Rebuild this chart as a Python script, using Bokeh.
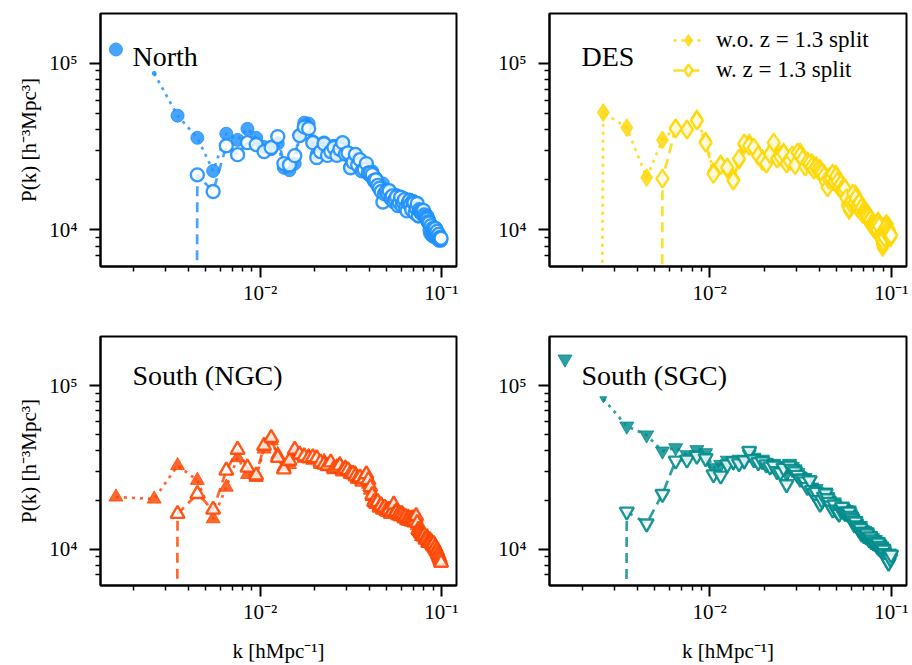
import numpy as np
from bokeh.plotting import figure
from bokeh.models import (FixedTicker, CustomJSTickFormatter, Label, Legend,
                          LegendItem, Range1d)
from bokeh.layouts import column, row
from bokeh.embed import file_html
from bokeh.resources import INLINE

# ---------------- data ----------------
K = [0.0016, 0.0026, 0.0035, 0.0045, 0.0055, 0.0065, 0.0075, 0.0085, 0.0095,
     0.0105, 0.0115, 0.0125, 0.0135, 0.0145, 0.0155, 0.0165, 0.0175, 0.0185, 0.0195,
     0.0205, 0.0215, 0.0225, 0.0235, 0.0245, 0.0255, 0.0265, 0.0275, 0.0285, 0.0295,
     0.0305, 0.0315, 0.0325, 0.0335, 0.0345, 0.0355, 0.0365, 0.0375, 0.0385, 0.0395,
     0.0405, 0.0415, 0.0425, 0.0435, 0.0445, 0.0455, 0.0465, 0.0475, 0.0485, 0.0495,
     0.0505, 0.0515, 0.0525, 0.0535, 0.0545, 0.0555, 0.0565, 0.0575, 0.0585, 0.0595,
     0.0605, 0.0615, 0.0625, 0.0635, 0.0645, 0.0655, 0.0665, 0.0675, 0.0685, 0.0695,
     0.0705, 0.0715, 0.0725, 0.0735, 0.0745, 0.0755, 0.0765, 0.0775, 0.0785, 0.0795,
     0.0805, 0.0815, 0.0825, 0.0835, 0.0845, 0.0855, 0.0865, 0.0875, 0.0885, 0.0895,
     0.0905, 0.0915, 0.0925, 0.0935, 0.0945, 0.0955, 0.0965, 0.0975, 0.0985, 0.0995]

# P(k) in units of 10^3 h^-3 Mpc^3 (negative = not positive, clipped on log axis)
NORTH_WO = [121, 87, 48.5, 35.7, 22.6, 37.8, 34.7, 40.4, 35.7,
            31.5, 30.5, 33.0, 23.6, 22.8, 25.0, 37.0, 44.0, 43.5, 34.0,
            28.5, 31.0, 33.5, 29.0, 30.0, 32.0, 28.5, 31.5, 33.0, 29.5,
            28.0, 24.0, 26.5, 27.5, 25.0, 26.0, 23.0, 22.5, 24.0, 21.5,
            21.0, 22.5, 19.8, 20.5, 19.0, 18.2, 17.5, 19.0, 16.0, 17.5,
            17.0, 17.2, 16.0, 16.5, 15.0, 15.5, 16.2, 14.5, 15.0, 15.7,
            14.2, 15.0, 15.5, 14.0, 13.2, 14.8, 15.2, 14.0, 13.5, 14.5,
            14.0, 13.0, 13.8, 14.4, 12.0, 13.5, 12.5, 13.2, 12.8, 13.1,
            12.0, 12.5, 11.5, 12.2, 11.0, 11.5, 9.5, 10.8, 9.2, 10.5,
            10.0, 9.0, 9.8, 10.2, 9.5, 9.6, 8.6, 9.3, 8.7, 8.6]
NORTH_W = [-30.0, -12.0, -4.0, 21.4, 17.0, 32.0, 28.3, 33.4, 32.5,
           29.5, 31.2, 36.3, 25.0, 24.5, 27.9, 36.8, 41.5, 40.6, 33.4,
           27.2, 29.5, 32.9, 28.0, 29.5, 31.2, 28.0, 30.5, 33.4, 28.5,
           29.0, 23.6, 25.5, 28.4, 24.5, 26.4, 22.6, 23.0, 25.0, 22.0,
           22.0, 21.5, 19.8, 20.0, 18.5, 17.8, 17.0, 14.7, 16.5, 17.0,
           16.5, 17.2, 15.5, 16.0, 14.8, 15.2, 15.8, 14.0, 14.6, 15.7,
           14.0, 14.6, 15.2, 13.6, 13.0, 14.5, 15.0, 14.2, 13.2, 14.8,
           14.5, 12.6, 13.5, 14.4, 12.2, 13.2, 12.8, 13.0, 12.5, 13.1,
           12.3, 12.0, 11.8, 11.6, 11.2, 11.0, 10.0, 10.6, 9.8, 10.2,
           9.9, 9.6, 10.2, 9.5, 9.8, 9.1, 9.4, 8.9, 9.0, 8.9]

DES_WO = [-20.0, 50.6, 41.1, 20.6, 34.7, 41.0, 40.5, 46.6, 34.3,
          22.5, 25.0, 23.0, 20.5, 26.0, 32.0, 33.5, 30.5, 28.5, 27.0,
          25.5, 29.0, 32.0, 27.0, 28.0, 29.5, 25.5, 26.5, 27.5, 25.5,
          28.0, 29.5, 27.0, 25.0, 26.0, 24.5, 25.5, 23.5, 24.5, 22.5,
          23.5, 21.5, 22.0, 20.0, 18.5, 21.0, 19.5, 22.0, 20.5, 21.7,
          20.0, 18.5, 19.5, 17.0, 18.5, 17.7, 16.0, 14.5, 13.0, 15.0,
          15.5, 16.0, 15.0, 16.5, 14.5, 14.0, 15.0, 13.5, 14.0, 13.0,
          13.6, 12.5, 13.0, 12.0, 12.5, 11.5, 11.8, 11.0, 10.5, 10.3,
          10.0, 10.5, 11.0, 10.2, 11.4, 10.0, 9.5, 9.0, 8.5, 7.8,
          8.2, 9.5, 10.5, 11.0, 9.8, 10.8, 9.5, 10.0, 9.2, 9.5]
DES_W = [-40.0, -25.0, -10.0, -3.0, 20.3, 40.6, 40.0, 45.3, 33.4,
         21.7, 24.5, 23.7, 19.8, 26.8, 33.0, 32.0, 31.2, 27.9, 26.0,
         25.0, 28.5, 33.4, 26.8, 27.5, 28.7, 25.0, 26.0, 28.0, 24.5,
         29.1, 28.0, 26.5, 24.0, 25.5, 25.0, 24.0, 23.0, 23.7, 23.0,
         22.5, 22.0, 21.0, 19.5, 18.0, 20.0, 20.5, 21.7, 19.5, 21.0,
         19.5, 18.0, 18.8, 17.5, 17.0, 17.7, 15.5, 14.0, 13.5, 14.5,
         15.0, 16.5, 14.5, 15.5, 14.0, 13.5, 14.5, 13.0, 13.6, 12.5,
         13.0, 12.8, 12.5, 12.2, 11.8, 11.2, 11.5, 10.8, 10.6, 10.5,
         10.2, 10.8, 10.5, 10.0, 11.0, 10.5, 9.2, 9.0, 8.8, 8.2,
         8.5, 9.0, 10.2, 10.5, 9.5, 10.2, 9.8, 9.5, 9.0, 9.3]

NGC_WO = [20.9, 20.3, 32.5, 26.4, 15.4, 24.0, 36.3, 28.7, 27.5,
          41.0, 46.0, 38.0, 32.0, 33.0, 38.5, 37.5, 36.0, 37.0, 35.0,
          35.5, 33.0, 34.5, 32.0, 33.5, 31.5, 32.0, 33.0, 30.5, 31.5,
          30.0, 29.5, 28.5, 29.0, 27.5, 27.0, 26.5, 27.5, 28.5, 25.0,
          23.0, 21.0, 20.0, 19.5, 19.0, 18.5, 18.8, 18.0, 17.5, 17.8,
          17.5, 17.0, 16.8, 17.2, 18.5, 17.0, 16.5, 16.8, 16.0, 16.5,
          16.2, 15.8, 16.0, 15.5, 15.0, 15.8, 15.2, 14.8, 15.5, 15.0,
          14.5, 15.0, 15.5, 14.0, 13.0, 12.8, 12.5, 12.0, 12.5, 12.2,
          12.0, 11.8, 11.5, 12.0, 11.2, 11.0, 11.5, 10.8, 11.0, 10.8,
          10.5, 10.8, 10.0, 10.2, 9.6, 9.3, 9.0, 8.8, 8.5, 8.4]
NGC_W = [-15.0, -6.0, 16.5, 21.8, 17.5, 30.3, 40.6, 31.6, 28.3,
         42.9, 47.9, 36.3, 30.8, 34.8, 40.6, 38.0, 37.0, 36.0, 36.5,
         36.0, 34.0, 33.0, 32.5, 34.0, 31.0, 31.5, 32.5, 30.0, 31.0,
         30.5, 29.0, 29.0, 28.0, 27.0, 27.5, 26.0, 27.0, 28.8, 26.5,
         24.0, 21.5, 19.5, 19.0, 19.5, 18.0, 18.5, 17.5, 18.0, 17.2,
         17.0, 17.5, 16.5, 17.0, 18.8, 16.8, 17.0, 16.2, 16.5, 16.0,
         16.5, 16.0, 15.5, 15.8, 15.2, 15.0, 15.5, 15.0, 14.8, 15.5,
         15.0, 14.8, 16.0, 14.5, 13.2, 13.0, 12.8, 12.5, 12.2, 12.0,
         12.2, 11.5, 11.8, 11.5, 11.0, 11.2, 11.0, 11.2, 10.8, 10.5,
         10.8, 10.2, 10.3, 9.8, 9.8, 9.4, 9.2, 8.9, 8.6, 8.3]

SGC_WO = [145, 83, 56.5, 49.9, 39.8, 41.7, 37.8, 40.6, 38.9,
          31.5, 33.0, 35.0, 34.0, 35.5, 34.5, 38.0, 36.5, 35.0, 35.5,
          34.0, 32.5, 33.5, 31.0, 30.5, 32.5, 29.0, 33.5, 32.0, 31.0,
          29.5, 28.0, 26.5, 27.5, 25.0, 26.0, 24.0, 22.5, 23.5, 21.0,
          20.5, 19.5, 21.5, 22.4, 21.0, 20.0, 19.0, 18.5, 19.5, 18.0,
          17.5, 16.5, 18.2, 18.0, 17.8, 16.5, 17.5, 17.0, 17.4, 16.5,
          16.0, 15.5, 14.5, 15.0, 14.4, 14.0, 13.5, 14.0, 13.0, 13.2,
          12.5, 13.0, 12.2, 12.8, 12.0, 11.8, 12.2, 11.5, 11.8, 11.5,
          11.2, 11.5, 11.0, 10.8, 11.2, 10.5, 10.8, 10.2, 10.5, 10.0,
          10.2, 9.8, 9.5, 9.2, 8.5, 9.0, 8.3, 9.5, 9.0, 9.3]
SGC_W = [-20.0, -8.0, 17.0, 14.4, 21.8, 34.8, 35.3, 37.3, 36.0,
         28.7, 28.2, 33.0, 34.5, 33.5, 35.0, 39.8, 35.5, 34.0, 34.5,
         33.0, 32.0, 32.5, 30.0, 29.5, 31.5, 25.0, 32.5, 31.0, 30.0,
         28.5, 27.0, 27.0, 26.0, 24.0, 26.4, 23.0, 22.0, 22.5, 20.0,
         19.0, 20.0, 21.0, 22.0, 20.5, 19.5, 18.5, 17.5, 18.8, 17.5,
         17.0, 16.5, 17.5, 18.2, 17.0, 16.8, 17.0, 16.5, 17.0, 16.0,
         15.5, 15.0, 14.2, 14.8, 14.0, 13.8, 13.2, 13.5, 12.5, 12.8,
         12.2, 12.8, 12.0, 12.5, 11.8, 11.5, 12.0, 11.2, 11.5, 11.0,
         11.0, 11.2, 10.8, 10.5, 11.0, 10.2, 10.5, 10.0, 10.2, 9.8,
         10.0, 9.5, 9.3, 9.0, 8.8, 8.6, 8.3, 9.2, 8.8, 9.3]

PANEL_NAMES = ["North", "DES", "South (NGC)", "South (SGC)"]
LEGEND_LABELS = ["w.o. z = 1.3 split", "w. z = 1.3 split"]
X_LABEL = "k [hMpc\u207b\u00b9]"
Y_LABEL = "P(k) [h\u207b\u00b3Mpc\u00b3]"
X_MAJOR = [1e-3, 1e-2, 1e-1]
X_MINOR = [2e-3, 3e-3, 4e-3, 5e-3, 6e-3, 7e-3, 8e-3, 9e-3,
           2e-2, 3e-2, 4e-2, 5e-2, 6e-2, 7e-2, 8e-2, 9e-2, 2e-1]
Y_MAJOR = [1e4, 1e5]
Y_MINOR = [6e3, 7e3, 8e3, 9e3, 2e4, 3e4, 4e4, 5e4, 6e4, 7e4, 8e4, 9e4, 2e5]

# ---------------- styling ----------------
FONT = "Liberation Serif"
XR = (1.315e-3, 0.121)
YR = (6.03e3, 1.99e5)

SUP_JS = """
const sup = {"-":"\u207b","0":"\u2070","1":"\u00b9","2":"\u00b2","3":"\u00b3",
             "4":"\u2074","5":"\u2075","6":"\u2076","7":"\u2077","8":"\u2078","9":"\u2079"};
const e = Math.round(Math.log10(tick));
return "10" + String(e).split("").map(c => sup[c]).join("");
"""


def style_axis(ax, major, minor):
    ax.ticker = FixedTicker(ticks=major, minor_ticks=minor)
    ax.formatter = CustomJSTickFormatter(code=SUP_JS)
    ax.axis_line_width = 2
    ax.axis_line_color = "black"
    ax.major_tick_line_width = 2
    ax.major_tick_out = 11
    ax.major_tick_in = 0
    ax.minor_tick_line_width = 1.5
    ax.minor_tick_out = 5
    ax.minor_tick_in = 0
    ax.major_label_text_font = FONT
    ax.major_label_text_font_size = "21px"
    ax.major_label_text_color = "black"
    ax.axis_label_text_font = FONT
    ax.axis_label_text_font_size = "21px"
    ax.axis_label_text_font_style = "normal"
    ax.axis_label_text_color = "black"


def make_panel(name, wo, w, color, marker, msize, width, height, bl, br, bt, bb,
               xlabel=None, ylabel=None, line_from=0, small=None, legend=False):
    p = figure(width=width, height=height, x_axis_type="log", y_axis_type="log",
               x_range=Range1d(*XR), y_range=Range1d(*YR),
               output_backend="svg", toolbar_location=None, title=None,
               min_border_left=bl, min_border_right=br,
               min_border_top=bt, min_border_bottom=bb)
    p.grid.visible = False
    p.outline_line_color = "black"
    p.outline_line_width = 2
    p.background_fill_color = "white"
    p.border_fill_color = "white"

    style_axis(p.xaxis[0], X_MAJOR, X_MINOR)
    style_axis(p.yaxis[0], Y_MAJOR, Y_MINOR)
    p.xaxis[0].major_label_standoff = 3
    p.yaxis[0].major_label_standoff = 12
    if xlabel:
        p.xaxis[0].axis_label = xlabel
        p.xaxis[0].axis_label_standoff = 12
    if ylabel:
        p.yaxis[0].axis_label = ylabel
        p.yaxis[0].axis_label_standoff = 5

    k = np.array(K)
    pwo = np.array(wo) * 1e3
    pw = np.array(w) * 1e3
    # non-positive values are clipped to a tiny number on the log axis
    pwo_c = np.where(pwo > 0, pwo, 1e-30)
    pw_c = np.where(pw > 0, pw, 1e-30)

    sizes = [msize] * len(k)
    if small is not None:
        sizes[1] = small

    alpha = 0.82
    l1 = p.line(k[line_from:], pwo_c[line_from:], line_color=color, line_width=2.7,
                line_dash="3 5", line_alpha=alpha)
    m1 = p.scatter(k, pwo_c, marker=marker, size=sizes, fill_color=color,
                   line_color=color, fill_alpha=alpha, line_alpha=alpha, line_width=1)
    l2 = p.line(k, pw_c, line_color=color, line_width=2.7, line_dash="10 6",
                line_alpha=alpha)
    m2 = p.scatter(k, pw_c, marker=marker, size=msize, fill_color="white",
                   fill_alpha=0.82, line_color=color, line_alpha=0.9, line_width=2.4)

    p.add_layout(Label(x=32, y=210, x_units="screen", y_units="screen", text=name,
                       text_font=FONT, text_font_size="28px", text_color="black",
                       text_baseline="alphabetic"))
    if legend:
        leg = Legend(items=[LegendItem(label=LEGEND_LABELS[0], renderers=[l1, m1]),
                            LegendItem(label=LEGEND_LABELS[1], renderers=[l2, m2])],
                     location=(124, 181), padding=0, margin=0, spacing=0,
                     glyph_width=30, glyph_height=30, label_height=30,
                     label_standoff=13, border_line_color=None,
                     background_fill_alpha=0,
                     label_text_font=FONT, label_text_font_size="23px",
                     label_text_color="black")
        p.add_layout(leg)
    return p


p1 = make_panel(PANEL_NAMES[0], NORTH_WO, NORTH_W, "#1e90ff", "circle", 13,
                470, 323, 100, 14, 13, 57, ylabel=Y_LABEL, line_from=1, small=4)
p2 = make_panel(PANEL_NAMES[1], DES_WO, DES_W, "#ffd700", "diamond", 18,
                442, 323, 79, 6, 13, 57, legend=True)
p3 = make_panel(PANEL_NAMES[2], NGC_WO, NGC_W, "#ff4500", "triangle", 14,
                470, 342, 100, 14, 13, 75, xlabel=X_LABEL, ylabel=Y_LABEL)
p4 = make_panel(PANEL_NAMES[3], SGC_WO, SGC_W, "#008b8b", "inverted_triangle", 14,
                442, 342, 79, 6, 13, 75, xlabel=X_LABEL, line_from=1, small=7)

layout = column(row(p1, p2), row(p3, p4))
open("out.html", "w").write(file_html(layout, INLINE))
